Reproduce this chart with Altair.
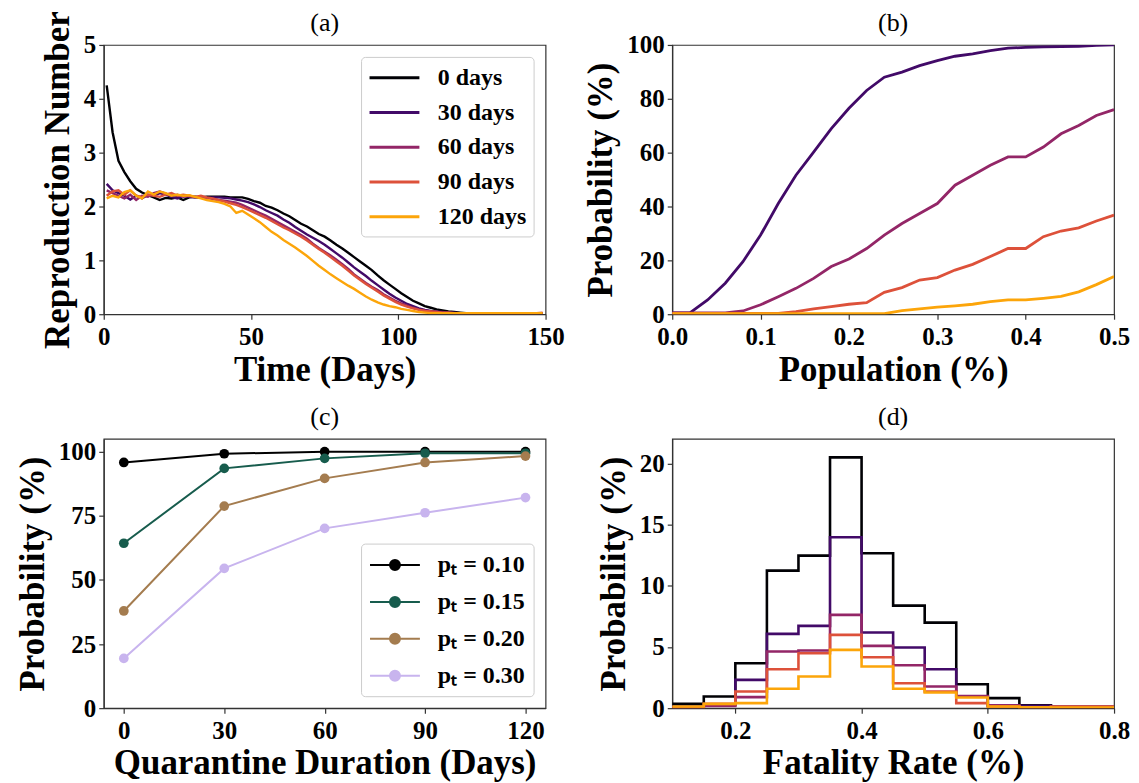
import altair as alt
import pandas as pd

SERIF = "Liberation Serif"

# ---------------- (a) reproduction number vs time ----------------
days = list(range(1, 150, 2))
qd_labels = ["0 days", "30 days", "60 days", "90 days", "120 days"]
inferno = ["#000004", "#420a68", "#932667", "#dd513a", "#fca50a"]

r_0 = [4.25, 3.38, 2.85, 2.64, 2.47, 2.33, 2.26, 2.21, 2.17, 2.12,
       2.16, 2.15, 2.17, 2.12, 2.17, 2.18, 2.17, 2.18, 2.18, 2.18,
       2.18, 2.17, 2.17, 2.17, 2.14, 2.10, 2.07, 2.01, 1.98, 1.93,
       1.87, 1.82, 1.75, 1.68, 1.63, 1.56, 1.49, 1.44, 1.37, 1.29,
       1.22, 1.14, 1.06, 0.98, 0.90, 0.82, 0.72, 0.63, 0.55, 0.47,
       0.39, 0.32, 0.25, 0.20, 0.15, 0.12, 0.09, 0.07, 0.05, 0.04,
       0.03, 0.02, 0.02, 0.02, 0.02, 0.02, 0.02, 0.02, 0.02, 0.02,
       0.02, 0.02, 0.02, 0.02, 0.02]
r_30 = [2.42, 2.30, 2.25, 2.20, 2.13, 2.20, 2.15, 2.22, 2.20, 2.25,
        2.22, 2.18, 2.15, 2.20, 2.18, 2.17, 2.17, 2.16, 2.17, 2.17,
        2.16, 2.15, 2.13, 2.11, 2.08, 2.04, 1.99, 1.93, 1.88, 1.83,
        1.76, 1.70, 1.62, 1.55, 1.48, 1.42, 1.36, 1.29, 1.21, 1.13,
        1.05, 0.96, 0.87, 0.79, 0.71, 0.62, 0.54, 0.46, 0.38, 0.31,
        0.25, 0.19, 0.15, 0.11, 0.08, 0.06, 0.05, 0.04, 0.03, 0.03,
        0.02, 0.02, 0.02, 0.02, 0.02, 0.02, 0.02, 0.02, 0.02, 0.02,
        0.02, 0.02, 0.02, 0.02, 0.02]
r_60 = [2.30, 2.25, 2.20, 2.15, 2.22, 2.12, 2.20, 2.18, 2.25, 2.28,
        2.24, 2.20, 2.22, 2.18, 2.20, 2.17, 2.17, 2.16, 2.14, 2.12,
        2.11, 2.09, 2.07, 2.03, 1.98, 1.93, 1.88, 1.83, 1.77, 1.71,
        1.65, 1.59, 1.53, 1.47, 1.40, 1.31, 1.23, 1.16, 1.09, 1.01,
        0.93, 0.84, 0.74, 0.66, 0.58, 0.51, 0.45, 0.37, 0.31, 0.25,
        0.20, 0.16, 0.12, 0.09, 0.07, 0.05, 0.04, 0.03, 0.03, 0.02,
        0.02, 0.02, 0.02, 0.02, 0.02, 0.02, 0.02, 0.02, 0.02, 0.02,
        0.02, 0.02, 0.02, 0.02, 0.02]
r_90 = [2.20, 2.28, 2.30, 2.22, 2.30, 2.20, 2.18, 2.22, 2.20, 2.18,
        2.22, 2.25, 2.20, 2.22, 2.20, 2.18, 2.20, 2.17, 2.15, 2.12,
        2.09, 2.06, 2.03, 1.99, 1.94, 1.89, 1.84, 1.79, 1.73, 1.67,
        1.61, 1.56, 1.50, 1.44, 1.37, 1.29, 1.21, 1.14, 1.06, 0.98,
        0.90, 0.81, 0.72, 0.64, 0.56, 0.49, 0.42, 0.35, 0.29, 0.23,
        0.18, 0.14, 0.11, 0.08, 0.06, 0.05, 0.04, 0.03, 0.03, 0.02,
        0.02, 0.02, 0.02, 0.02, 0.02, 0.02, 0.02, 0.02, 0.02, 0.02,
        0.02, 0.02, 0.02, 0.02, 0.03]
r_120 = [2.15, 2.20, 2.17, 2.27, 2.30, 2.20, 2.15, 2.28, 2.22, 2.28,
         2.25, 2.20, 2.22, 2.20, 2.21, 2.18, 2.15, 2.12, 2.10, 2.08,
         2.05, 2.00, 1.88, 1.92, 1.85, 1.78, 1.71, 1.62, 1.53, 1.46,
         1.38, 1.31, 1.24, 1.16, 1.08, 0.99, 0.90, 0.82, 0.74, 0.67,
         0.60, 0.53, 0.47, 0.40, 0.33, 0.27, 0.22, 0.18, 0.15, 0.13,
         0.10, 0.08, 0.06, 0.04, 0.03, 0.02, 0.02, 0.02, 0.02, 0.02,
         0.02, 0.02, 0.02, 0.02, 0.02, 0.02, 0.02, 0.02, 0.02, 0.02,
         0.02, 0.02, 0.02, 0.02, 0.02]

# ---------------- (b) probability vs population ----------------
population = [0.00, 0.02, 0.04, 0.06, 0.08, 0.10, 0.12, 0.14, 0.16, 0.18,
              0.20, 0.22, 0.24, 0.26, 0.28, 0.30, 0.32, 0.34, 0.36, 0.38,
              0.40, 0.42, 0.44, 0.46, 0.48, 0.50]
pb_30 = [0.5, 0.5, 5.3, 11.5, 19.5, 29.4, 41.1, 51.6, 60.2, 68.9,
         76.5, 83.1, 88.0, 89.9, 92.3, 94.2, 95.8, 96.7, 97.9, 98.8,
         99.1, 99.3, 99.4, 99.5, 99.8, 100.0]
pb_60 = [0.5, 0.5, 0.5, 0.5, 1.2, 3.5, 6.5, 9.6, 13.3, 17.7,
         20.5, 24.4, 29.4, 33.7, 37.4, 41.1, 47.9, 51.6, 55.3, 58.4,
         58.4, 62.1, 67.0, 70.1, 73.8, 76.0]
pb_90 = [0.3, 0.3, 0.3, 0.3, 0.3, 0.3, 0.3, 1.0, 2.0, 2.8,
         3.7, 4.3, 8.1, 9.9, 12.7, 13.6, 16.4, 18.5, 21.4, 24.4,
         24.4, 28.8, 30.9, 32.1, 34.6, 36.8]
pb_120 = [0.2, 0.2, 0.2, 0.2, 0.2, 0.2, 0.2, 0.2, 0.2, 0.2,
          0.2, 0.2, 0.2, 1.3, 2.0, 2.6, 3.1, 3.7, 4.7, 5.3,
          5.3, 5.9, 6.6, 8.3, 11.0, 14.0]

# ---------------- (c) probability vs quarantine duration ----------------
durations = [0, 30, 60, 90, 120]
pt_labels = ["p\u209c = 0.10", "p\u209c = 0.15", "p\u209c = 0.20", "p\u209c = 0.30"]
pt_colors = ["#000000", "#175c4d", "#a47c4f", "#c8b4ee"]
pc_10 = [95.8, 99.2, 100.0, 100.0, 100.0]
pc_15 = [64.3, 93.5, 97.4, 99.4, 99.4]
pc_20 = [37.9, 78.8, 89.6, 95.8, 98.3]
pc_30 = [19.4, 54.5, 70.1, 76.2, 82.1]

# ---------------- (d) fatality-rate histograms ----------------
bin_edges = [0.10, 0.15, 0.20, 0.25, 0.30, 0.35, 0.40, 0.45, 0.50, 0.55,
             0.60, 0.65, 0.70, 0.75, 0.80]
hd_0 = [0.35, 0.95, 3.67, 11.24, 12.46, 20.49, 12.65, 8.38, 6.99, 1.96, 0.82, 0.24, 0.05, 0.05]
hd_30 = [0.14, 0.27, 2.31, 6.07, 6.72, 13.96, 6.18, 4.95, 3.18, 0.95, 0.19, 0.19, 0.14, 0.14]
hd_60 = [0.08, 0.19, 0.90, 4.63, 4.71, 7.62, 5.09, 3.51, 1.77, 1.00, 0.24, 0.08, 0.08, 0.08]
hd_90 = [0.08, 0.35, 1.36, 3.18, 4.49, 5.99, 4.16, 2.04, 1.36, 0.41, 0.14, 0.08, 0.14, 0.14]
hd_120 = [0.14, 0.35, 0.41, 1.58, 2.59, 4.76, 3.40, 1.58, 1.28, 0.87, 0.14, 0.08, 0.05, 0.05]

panel_titles = ["(a)", "(b)", "(c)", "(d)"]

# ---------------- tables ----------------
rows = []
for k, (lab, vals) in enumerate(zip(qd_labels, [r_0, r_30, r_60, r_90, r_120])):
    for d, v in zip(days, vals):
        rows.append({"day": d, "R": v, "qd": lab, "k": k})
dfa = pd.DataFrame(rows)

rows = []
for k, (lab, vals) in enumerate(zip(qd_labels[1:], [pb_30, pb_60, pb_90, pb_120])):
    for p, v in zip(population, vals):
        rows.append({"pop": p, "prob": v, "qd": lab, "k": k})
dfb = pd.DataFrame(rows)

rows = []
for k, (lab, vals) in enumerate(zip(pt_labels, [pc_10, pc_15, pc_20, pc_30])):
    for d, v in zip(durations, vals):
        rows.append({"dur": d, "prob": v, "pt": lab, "k": k})
dfc = pd.DataFrame(rows)

rows = []
for k, (lab, vals) in enumerate(zip(qd_labels, [hd_0, hd_30, hd_60, hd_90, hd_120])):
    for e, v in zip(bin_edges, vals + [vals[-1]]):
        rows.append({"rate": e, "prob": v, "qd": lab, "k": k})
dfd = pd.DataFrame(rows)

W, H = 443, 270


def panel_label(t):
    return alt.Chart(pd.DataFrame({"lab": [t]})).mark_text(
        font=SERIF, fontSize=26, baseline="bottom", align="center", color="black"
    ).encode(x=alt.value(W / 2), y=alt.value(-9), text="lab:N")


legend_a = alt.Legend(
    title=None, orient="top-right", offset=12,
    symbolType="M-1,0L3,0", symbolSize=625,
    symbolStrokeWidth=3, labelFont=SERIF, labelFontSize=24, labelFontWeight="bold",
    labelOffset=42, rowPadding=8.8, padding=7, strokeColor="#cccccc", cornerRadius=4,
    fillColor="white", labelLimit=400, labelColor="black",
)

la = alt.Chart(dfa).mark_line(strokeWidth=2.4, clip=True).encode(
    x=alt.X("day:Q", scale=alt.Scale(domain=[0, 150], nice=False, zero=False),
            axis=alt.Axis(values=[0, 50, 100, 150], title="Time (Days)")),
    y=alt.Y("R:Q", scale=alt.Scale(domain=[0, 5], nice=False),
            axis=alt.Axis(values=[0, 1, 2, 3, 4, 5], title="Reproduction Number")),
    color=alt.Color("qd:N", sort=qd_labels, scale=alt.Scale(domain=qd_labels, range=inferno), legend=legend_a),
    order=alt.Order("k:Q"),
)
pa = alt.layer(la, panel_label(panel_titles[0])).properties(width=W, height=H)

lb = alt.Chart(dfb).mark_line(strokeWidth=2.8, clip=True).encode(
    x=alt.X("pop:Q", scale=alt.Scale(domain=[0, 0.5], nice=False),
            axis=alt.Axis(values=[0, 0.1, 0.2, 0.3, 0.4, 0.5], format=".1f", title="Population (%)")),
    y=alt.Y("prob:Q", scale=alt.Scale(domain=[0, 100], nice=False),
            axis=alt.Axis(values=[0, 20, 40, 60, 80, 100], title="Probability (%)")),
    color=alt.Color("qd:N", scale=alt.Scale(domain=qd_labels[1:], range=inferno[1:]), legend=None),
)
pb = alt.layer(lb, panel_label(panel_titles[1])).properties(width=W, height=H)

legend_c = alt.Legend(
    title=None, orient="bottom-right", offset=12,
    symbolType="M-1,0L3,0M1.4,0A0.4,0.4,0,1,1,0.6,0A0.4,0.4,0,1,1,1.4,0Z",
    symbolSize=625, symbolStrokeWidth=2, labelFont=SERIF, labelFontSize=24, labelFontWeight="bold",
    labelOffset=42, rowPadding=11, padding=8, strokeColor="#cccccc", cornerRadius=4,
    fillColor="white", labelLimit=400, labelColor="black",
)

cbase = alt.Chart(dfc).encode(
    x=alt.X("dur:Q", scale=alt.Scale(domain=[-6, 126], nice=False, zero=False),
            axis=alt.Axis(values=durations, title="Quarantine Duration (Days)")),
    y=alt.Y("prob:Q", scale=alt.Scale(domain=[0, 105], nice=False),
            axis=alt.Axis(values=[0, 25, 50, 75, 100], title="Probability (%)")),
    color=alt.Color("pt:N", scale=alt.Scale(domain=pt_labels, range=pt_colors), legend=legend_c),
)
pc = alt.layer(
    cbase.mark_line(strokeWidth=2),
    cbase.mark_point(filled=True, size=95, opacity=1),
    panel_label(panel_titles[2]),
).properties(width=W, height=H)

ld = alt.Chart(dfd).mark_line(strokeWidth=2.6, interpolate="step-after", clip=True).encode(
    x=alt.X("rate:Q", scale=alt.Scale(domain=[0.1, 0.8], nice=False, zero=False),
            axis=alt.Axis(values=[0.2, 0.4, 0.6, 0.8], format=".1f", title="Fatality Rate (%)")),
    y=alt.Y("prob:Q", scale=alt.Scale(domain=[0, 22], nice=False),
            axis=alt.Axis(values=[0, 5, 10, 15, 20], title="Probability (%)")),
    color=alt.Color("qd:N", scale=alt.Scale(domain=qd_labels, range=inferno), legend=None),
)
pdd = alt.layer(ld, panel_label(panel_titles[3])).properties(width=W, height=H)

chart = alt.concat(pa, pb, pc, pdd, columns=2, spacing={"row": 15, "column": 17}).resolve_scale(
    x="independent", y="independent", color="independent"
).properties(
    padding={"left": 6, "top": 0, "right": 0, "bottom": 0}
).configure_view(
    stroke="#333333", strokeWidth=1.2
).configure_axis(
    labelFont=SERIF, labelFontSize=25, labelFontWeight="bold", labelColor="black",
    titleFont=SERIF, titleFontSize=35, titleFontWeight="bold", titleColor="black",
    grid=False, tickSize=5, tickColor="#333333", tickWidth=1.2,
    domainColor="#333333", domainWidth=1.2, labelFlush=False,
).configure_axisX(
    labelPadding=5, titlePadding=3
).configure_axisY(
    labelPadding=3, titlePadding=8
)

chart.save("out.html", embed_options={"renderer": "svg", "actions": False})
